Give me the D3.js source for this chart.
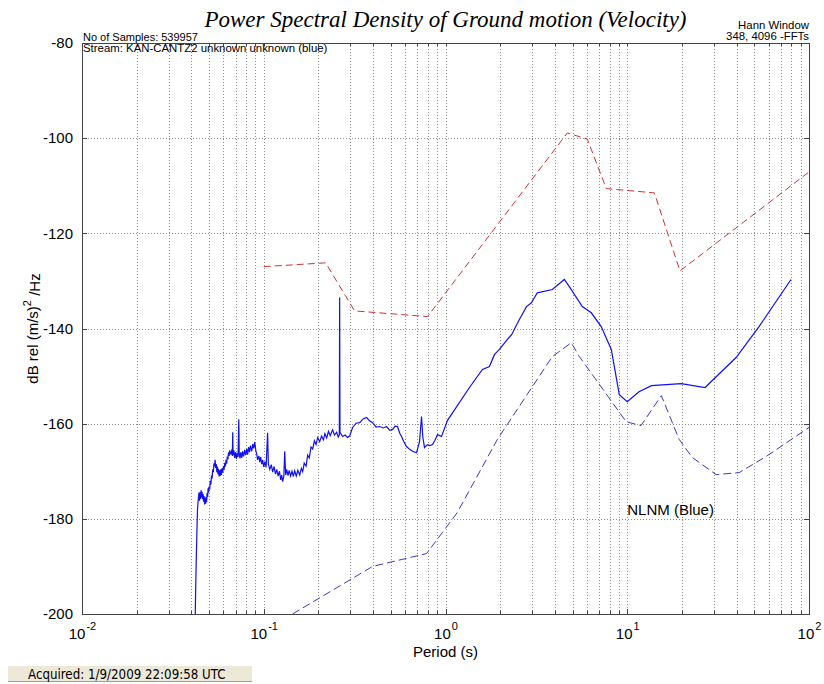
<!DOCTYPE html>
<html>
<head>
<meta charset="utf-8">
<script src="https://cdn.jsdelivr.net/npm/d3@7"></script>
<style>
  body { margin: 0; background: #fff; }
  svg { display: block; font-family: 'Liberation Sans', Arial, sans-serif; white-space: pre; }
  .grid line { stroke: #8c8c8c; stroke-dasharray: 1,2; shape-rendering: crispEdges; }
  .grid path { display: none; }
  .axis path, .axis line { stroke: #444; shape-rendering: crispEdges; }
  .axis text { font-size: 15px; fill: #000; }
  .title { font-family: 'Liberation Serif', 'DejaVu Serif', serif; font-style: italic; font-size: 23px; }
</style>
</head>
<body>
<div id="chart"></div>
<script>
// NHNM (red, dashed) - period (s), dB
const nhnmPeriod = [0.1, 0.219, 0.316, 0.796, 4.68, 6.03, 7.67, 14.1, 19.5, 100];
const nhnmDb = [-127.0, -126.2, -136.3, -137.5, -98.9, -100.2, -110.6, -111.5, -127.9, -107.1];

// NLNM (blue, dashed)
const nlnmPeriod = [0.144, 0.397, 0.787, 1.16, 1.93, 3.87, 4.92, 5.45, 9.87, 11.9, 15.4, 19.3, 22.8, 30.8, 41.2, 58.1, 100];
const nlnmDb = [-200, -190.0, -187.3, -178.7, -163.3, -145.9, -143.0, -145.9, -159.6, -160.4, -154.1, -163.3, -167.1, -170.7, -170.3, -166.9, -160.8];

// measured PSD (blue, solid)
const psdPeriod = [
  0.0420, 0.0422, 0.0425, 0.0428, 0.0432, 0.0436, 0.0440,
  0.0443, 0.0446, 0.0449, 0.0452, 0.0455, 0.0458, 0.0461, 0.0464, 0.0467, 0.0470,
  0.0473, 0.0476, 0.0479, 0.0482, 0.0485, 0.0488, 0.0491, 0.0494, 0.0497, 0.0500,
  0.0504, 0.0508, 0.0512, 0.0516, 0.0520, 0.0524, 0.0528, 0.0532, 0.0536, 0.0540,
  0.0544, 0.0548, 0.0552, 0.0556, 0.0560, 0.0564, 0.0568, 0.0572, 0.0576, 0.0580,
  0.0585, 0.0590, 0.0595, 0.0600, 0.0605, 0.0610, 0.0615, 0.0620, 0.0625, 0.0630,
  0.0635, 0.0640, 0.0645, 0.0650, 0.0660, 0.0668, 0.0672, 0.0675, 0.0678, 0.0685,
  0.0692, 0.0700, 0.0707, 0.0715, 0.0722, 0.0729, 0.0733, 0.0740, 0.0748, 0.0757,
  0.0765, 0.0775, 0.0785, 0.0795, 0.0806, 0.0815, 0.0825, 0.0835, 0.0845, 0.0859,
  0.0870, 0.0880, 0.0892, 0.0905, 0.0915, 0.0925, 0.0940, 0.0951, 0.0962, 0.0975,
  0.0987, 0.100, 0.1015, 0.103, 0.105, 0.106, 0.108, 0.110, 0.112, 0.114,
  0.116, 0.118, 0.120, 0.122, 0.124, 0.1256, 0.127, 0.129, 0.1304, 0.132,
  0.1338, 0.136, 0.138, 0.1405, 0.143, 0.1455, 0.148, 0.151, 0.154, 0.1577,
  0.161, 0.1638, 0.167, 0.171, 0.1745, 0.178, 0.182, 0.1859, 0.190, 0.194,
  0.198, 0.2031, 0.208, 0.213, 0.217, 0.222, 0.227, 0.232, 0.2393, 0.245,
  0.2518, 0.2570, 0.2605, 0.2616, 0.2627, 0.2717, 0.280, 0.289, 0.2969, 0.3083,
  0.322, 0.337, 0.352, 0.3681, 0.382, 0.3971, 0.415, 0.4339, 0.455, 0.4741,
  0.493, 0.5115, 0.528, 0.5449, 0.560, 0.5731, 0.590, 0.6105, 0.635, 0.6588,
  0.6929, 0.7196, 0.7381, 0.750, 0.7665, 0.7962, 0.820, 0.8484, 0.875, 0.9036,
  0.9506, 1.026, 1.355, 1.597, 1.745, 1.858, 1.98, 2.19, 2.31, 2.55,
  2.79, 2.97, 3.20, 3.87, 4.51, 4.80, 5.66, 6.34, 7.19, 8.17,
  9.04, 10.0, 11.6, 13.6, 19.8, 26.8, 39.7, 53.1, 79.6
];
const psdDb = [
  -200, -195, -189, -184, -178, -176, -174.5,
  -176.2, -174.4, -175.8, -174.0, -175.5, -174.3, -175.9, -174.8, -176.4, -175.2,
  -177.0, -175.6, -176.8, -175.4, -176.5, -174.6, -175.4, -173.6, -174.5, -173.2,
  -173.8, -172.0, -172.8, -170.9, -171.5, -169.6, -170.2, -168.4, -169.0, -167.6,
  -169.3, -168.5, -170.2, -169.0, -170.6, -169.5, -171.1, -169.8, -171.0, -169.6,
  -170.8, -169.4, -170.3, -168.9, -169.7, -168.2, -169.0, -167.6, -168.4, -166.9,
  -167.5, -166.0, -166.8, -165.6, -166.5, -165.4, -166.8, -161.8, -166.6, -165.6,
  -167.2, -166.0, -167.4, -166.2, -167.0, -159.1, -166.3, -167.3, -166.0, -167.2,
  -165.8, -166.9, -165.5, -166.6, -165.3, -166.5, -164.9, -166.0, -164.6, -165.8,
  -164.3, -165.2, -163.9, -165.7, -166.4, -167.6, -166.8, -168.1, -167.0, -168.5,
  -167.6, -169.1, -168.0, -169.2, -161.9, -168.5, -169.6, -168.6, -170.2, -169.0,
  -170.6, -169.6, -171.0, -170.0, -171.8, -170.8, -172.2, -171.0, -165.8, -170.8,
  -169.6, -170.9, -169.8, -171.0, -170.0, -171.1, -169.9, -171.0, -169.8, -170.8,
  -169.4, -170.1, -168.3, -168.9, -166.6, -167.2, -164.9, -165.3, -163.6, -164.4,
  -162.9, -163.8, -162.6, -163.4, -162.1, -163.0, -161.6, -162.5, -161.3, -162.4,
  -161.8, -162.8, -162.4, -133.5, -161.8, -162.7, -162.4, -162.9, -162.6, -160.8,
  -159.9, -159.8, -159.0, -158.7, -159.4, -159.8, -160.7, -160.6, -160.9, -160.6,
  -161.4, -161.2, -160.5, -160.6, -162.0, -162.7, -163.8, -164.8, -165.4, -165.8,
  -166.1, -163.8, -158.5, -162.8, -165.0, -164.4, -164.6, -164.4, -163.5, -162.3,
  -162.7, -159.3, -152.4, -148.6, -148.0, -145.5, -144.4, -142.3, -141.3, -138.1,
  -135.4, -134.6, -132.5, -131.8, -129.7, -131.2, -135.4, -136.7, -139.6, -144.4,
  -153.9, -155.4, -153.3, -152.0, -151.6, -152.4, -146.1, -139.6, -129.7
];

const yTicks = [-200, -180, -160, -140, -120, -100, -80];
const xMajorTicks = [0.01, 0.1, 1, 10, 100];
const xTickExp = ['-2', '-1', '0', '1', '2'];

const width = 824;
const height = 684;
const margin = { top: 43, right: 15, bottom: 70, left: 82 };
const w = width - margin.left - margin.right;
const h = height - margin.top - margin.bottom;

const svg = d3.select('#chart')
  .append('svg')
  .attr('width', width)
  .attr('height', height);

const g = svg.append('g')
  .attr('transform', 'translate(' + margin.left + ',' + margin.top + ')');

const x = d3.scaleLog().domain([0.01, 100]).range([0, w]);
const y = d3.scaleLinear().domain([-200, -80]).range([h, 0]);

// minor + major log ticks
const xAllTicks = [];
[0.01, 0.1, 1, 10].forEach(dec => {
  for (let k = 1; k <= 9; k++) xAllTicks.push(dec * k);
});
xAllTicks.push(100);

// dotted grid
g.append('g')
  .attr('class', 'grid')
  .attr('transform', 'translate(0,' + h + ')')
  .call(d3.axisBottom(x).tickValues(xAllTicks.filter(v => v > 0.01 && v < 100)).tickSize(-h).tickFormat(''));
g.append('g')
  .attr('class', 'grid')
  .call(d3.axisLeft(y).tickValues(yTicks.filter(v => v > -200 && v < -80)).tickSize(-w).tickFormat(''));

// clip
svg.append('clipPath').attr('id', 'clip')
  .append('rect').attr('x', 0).attr('y', 0).attr('width', w).attr('height', h);

const line = d3.line()
  .x(d => x(d[0]))
  .y(d => y(d[1]));

const plot = g.append('g').attr('clip-path', 'url(#clip)');

plot.append('path')
  .datum(d3.zip(nhnmPeriod, nhnmDb))
  .attr('d', line)
  .attr('fill', 'none')
  .attr('stroke', '#cc3333')
  .attr('stroke-width', 1)
  .attr('stroke-dasharray', '7,4');

plot.append('path')
  .datum(d3.zip(nlnmPeriod, nlnmDb))
  .attr('d', line)
  .attr('fill', 'none')
  .attr('stroke', '#3b3bc0')
  .attr('stroke-width', 1)
  .attr('stroke-dasharray', '8,4');

plot.append('path')
  .datum(d3.zip(psdPeriod, psdDb))
  .attr('d', line)
  .attr('fill', 'none')
  .attr('stroke', '#1010f0')
  .attr('stroke-width', 1.2);

// axes (ticks pointing inward, box on)
const xAxis = g.append('g')
  .attr('class', 'axis')
  .attr('transform', 'translate(0,' + h + ')')
  .call(d3.axisBottom(x).tickValues(xMajorTicks).tickSize(-5).tickPadding(14).tickFormat(() => '10'));

xAxis.selectAll('.tick text')
  .each(function (d, i) {
    d3.select(this).append('tspan')
      .attr('dy', '-0.75em')
      .attr('dx', '1px')
      .style('font-size', '11px')
      .text(xTickExp[i]);
  })
  .attr('text-anchor', 'middle');

g.append('g')
  .attr('class', 'axis')
  .attr('transform', 'translate(0,' + h + ')')
  .call(d3.axisBottom(x).tickValues(xAllTicks).tickSize(-3).tickFormat(''));

g.append('g')
  .attr('class', 'axis')
  .call(d3.axisTop(x).tickValues(xAllTicks).tickSize(-3).tickFormat(''));

g.append('g')
  .attr('class', 'axis')
  .call(d3.axisLeft(y).tickValues(yTicks).tickSize(-5).tickPadding(9).tickFormat(d => String(d)));

g.append('g')
  .attr('class', 'axis')
  .attr('transform', 'translate(' + w + ',0)')
  .call(d3.axisRight(y).tickValues(yTicks).tickSize(-5).tickFormat(''));

// labels
svg.append('text')
  .attr('class', 'title')
  .attr('x', margin.left + w / 2)
  .attr('y', 27)
  .attr('text-anchor', 'middle')
  .text('Power Spectral Density of Ground motion (Velocity)');

svg.append('text')
  .attr('x', margin.left + w / 2)
  .attr('y', 657)
  .attr('text-anchor', 'middle')
  .style('font-size', '15px')
  .text('Period (s)');

const yLab = svg.append('text')
  .attr('transform', 'translate(38,' + (margin.top + h / 2) + ') rotate(-90)')
  .attr('text-anchor', 'middle')
  .style('font-size', '15px');
yLab.append('tspan').text('dB rel (m/s)');
yLab.append('tspan').attr('dy', '-0.6em').style('font-size', '11px').text('2');
yLab.append('tspan').attr('dy', '0.6em').text(' /Hz');

svg.append('text')
  .attr('x', margin.left + 1)
  .attr('y', 41)
  .style('font-size', '11px')
  .text('No of Samples: 539957');
svg.append('text')
  .attr('x', margin.left + 1)
  .attr('y', 52)
  .style('font-size', '11.4px')
  .text('Stream: KAN-CANTZ2 unknown unknown  (blue)');

svg.append('text')
  .attr('x', margin.left + w)
  .attr('y', 29)
  .attr('text-anchor', 'end')
  .style('font-size', '11.4px')
  .text('Hann Window');
svg.append('text')
  .attr('x', margin.left + w)
  .attr('y', 40)
  .attr('text-anchor', 'end')
  .style('font-size', '11.4px')
  .text('348, 4096 -FFTs');

g.append('text')
  .attr('x', x(10))
  .attr('y', y(-180) - 4)
  .style('font-size', '15px')
  .text('NLNM (Blue)');

// acquisition stamp
svg.append('rect')
  .attr('x', 8).attr('y', 666).attr('width', 244).attr('height', 15)
  .attr('fill', '#ece9d8');
svg.append('line')
  .attr('x1', 8).attr('x2', 252).attr('y1', 681.5).attr('y2', 681.5)
  .attr('stroke', '#9d9d9d');
svg.append('text')
  .attr('x', 28)
  .attr('y', 679)
  .style('font-size', '13.2px')
  .style('font-family', "'DejaVu Sans Condensed', 'Liberation Sans Narrow', sans-serif")
  .text('Acquired: 1/9/2009 22:09:58  UTC');
</script>
</body>
</html>
